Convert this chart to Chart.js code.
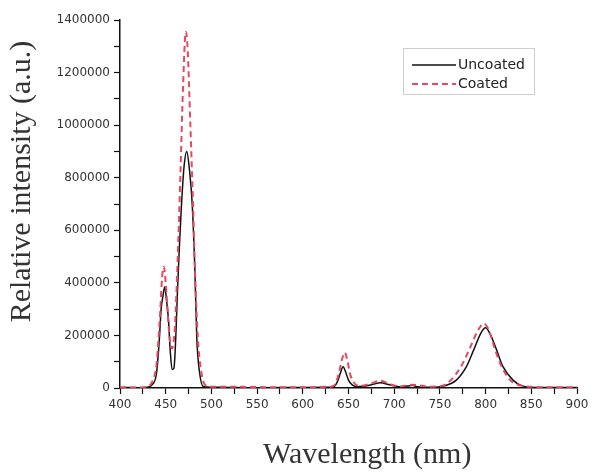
<!DOCTYPE html>
<html lang="en">
<head>
<meta charset="UTF-8">
<title>Emission spectra</title>
<script src="https://cdn.jsdelivr.net/npm/chart.js"></script>
<style>
  html, body { margin: 0; padding: 0; background: #fff; }
  #wrap { width: 600px; height: 476px; }
</style>
</head>
<body>
<div id="wrap"><canvas id="spectrum"></canvas></div>
<script>
// wavelength (nm) and intensity (a.u.)
const uncoatedNm = [400, 410, 420, 430, 435, 440, 443, 445, 447, 449, 451, 453, 455, 457, 459, 461, 463, 465, 467, 470, 473, 476, 479, 482, 484, 487, 491, 500, 520, 550, 600, 630, 634, 638, 641, 644, 647, 650, 654, 660, 675, 685, 695, 705, 715, 720, 725, 740, 755, 768, 779, 787, 795, 800, 805, 812, 819, 830, 840, 860, 900];
const uncoatedI  = [2000, 2000, 1000, 3000, 12000, 57000, 183000, 300000, 350000, 385000, 330000, 260000, 140000, 70000, 75000, 190000, 380000, 540000, 680000, 840000, 900000, 830000, 700000, 440000, 190000, 60000, 6000, 3000, 2000, 1000, 2000, 3000, 5000, 25000, 55000, 81000, 60000, 30000, 12000, 5000, 12000, 20000, 12000, 5000, 8000, 10000, 5000, 3000, 8000, 30000, 81000, 145000, 210000, 229000, 205000, 145000, 81000, 30000, 8000, 2000, 2000];

const coatedNm = [400, 420, 430, 436, 440, 442, 444, 446, 448, 450, 452, 454, 457, 460, 463, 466, 469, 472, 474, 477, 480, 482, 485, 489, 493, 500, 520, 540, 570, 600, 630, 635, 639, 643, 646, 649, 652, 656, 662, 675, 685, 695, 705, 720, 740, 752, 762, 773, 782, 791, 798, 803, 810, 817, 827, 840, 855, 870, 900];
const coatedI  = [3000, 2000, 5000, 30000, 90000, 180000, 290000, 420000, 461000, 400000, 300000, 200000, 150000, 230000, 480000, 800000, 1150000, 1355000, 1290000, 1000000, 690000, 450000, 200000, 60000, 12000, 5000, 5000, 4000, 3000, 3000, 5000, 12000, 50000, 110000, 135000, 100000, 50000, 20000, 8000, 18000, 28000, 15000, 6000, 12000, 5000, 8000, 30000, 81000, 145000, 215000, 245000, 225000, 150000, 85000, 30000, 8000, 4000, 3000, 3000];

const seriesNames = ['Uncoated', 'Coated'];
const xTickMin = 400, xTickMax = 900;
const yTickMin = 0, yTickMax = 1400000;

const toPoints = (xs, ys) => xs.map((x, i) => ({ x: x, y: ys[i] }));

// legend box drawn on the canvas, like the boxed legend in the figure
const boxLegend = {
    id: 'boxLegend',
    afterDraw(chart) {
        const ctx = chart.ctx;
        const left = 403, top = 48, w = 131, h = 46;
        ctx.save();
        ctx.strokeStyle = '#cfcfcf';
        ctx.lineWidth = 1;
        ctx.strokeRect(left + 0.5, top + 0.5, w, h);
        ctx.font = '14px "DejaVu Sans", sans-serif';
        ctx.textBaseline = 'middle';
        chart.data.datasets.forEach((ds, i) => {
            const y = top + 17 + i * 19;
            ctx.strokeStyle = ds.borderColor;
            ctx.lineWidth = ds.borderWidth;
            ctx.setLineDash(ds.borderDash || []);
            ctx.beginPath();
            ctx.moveTo(left + 9, y);
            ctx.lineTo(left + 53, y);
            ctx.stroke();
            ctx.setLineDash([]);
            ctx.fillStyle = '#222';
            ctx.fillText(ds.label, left + 55, y);
        });
        ctx.restore();
    }
};

const tickFont = { family: '"DejaVu Sans", sans-serif', size: 12 };
const titleFont = { family: '"Liberation Serif", "Times New Roman", serif', size: 30 };

new Chart(document.getElementById('spectrum'), {
    type: 'line',
    data: {
        datasets: [
            {
                label: seriesNames[0],
                data: toPoints(uncoatedNm, uncoatedI),
                borderColor: '#111111',
                borderWidth: 1.5,
                pointRadius: 0,
                cubicInterpolationMode: 'monotone',
                order: 1
            },
            {
                label: seriesNames[1],
                data: toPoints(coatedNm, coatedI),
                borderColor: '#e8485f',
                borderWidth: 2,
                borderDash: [6, 4],
                pointRadius: 0,
                cubicInterpolationMode: 'monotone',
                order: 0
            }
        ]
    },
    options: {
        responsive: true,
        maintainAspectRatio: false,
        animation: false,
        layout: { padding: { top: 20, right: 23, left: 0, bottom: 0 } },
        plugins: { legend: { display: false }, tooltip: { enabled: false } },
        scales: {
            x: {
                type: 'linear',
                min: xTickMin,
                max: xTickMax,
                afterFit: scale => { scale.height = 88; },
                border: { color: '#111', width: 1.5 },
                grid: { drawOnChartArea: false, tickLength: 6, tickColor: '#111', tickWidth: 1.2 },
                ticks: {
                    stepSize: 25,
                    maxRotation: 0,
                    autoSkip: false,
                    color: '#333',
                    padding: 4,
                    font: tickFont,
                    callback: v => (v % 50 === 0 ? v : '')
                },
                title: {
                    display: true,
                    text: '     Wavelength (nm)',
                    color: '#333',
                    padding: { top: 0, bottom: 3 },
                    font: titleFont
                }
            },
            y: {
                min: yTickMin,
                max: yTickMax,
                afterFit: scale => { scale.width = 120; },
                border: { color: '#111', width: 1.5 },
                grid: { drawOnChartArea: false, tickLength: 6, tickColor: '#111', tickWidth: 1.2 },
                ticks: {
                    stepSize: 100000,
                    autoSkip: false,
                    color: '#333',
                    padding: 4,
                    font: tickFont,
                    callback: v => (v % 200000 === 0 ? String(v) : '')
                },
                title: {
                    display: true,
                    text: '      Relative intensity (a.u.)',
                    color: '#333',
                    padding: { top: 4, bottom: 0 },
                    font: titleFont
                }
            }
        }
    },
    plugins: [boxLegend]
});
</script>
</body>
</html>
